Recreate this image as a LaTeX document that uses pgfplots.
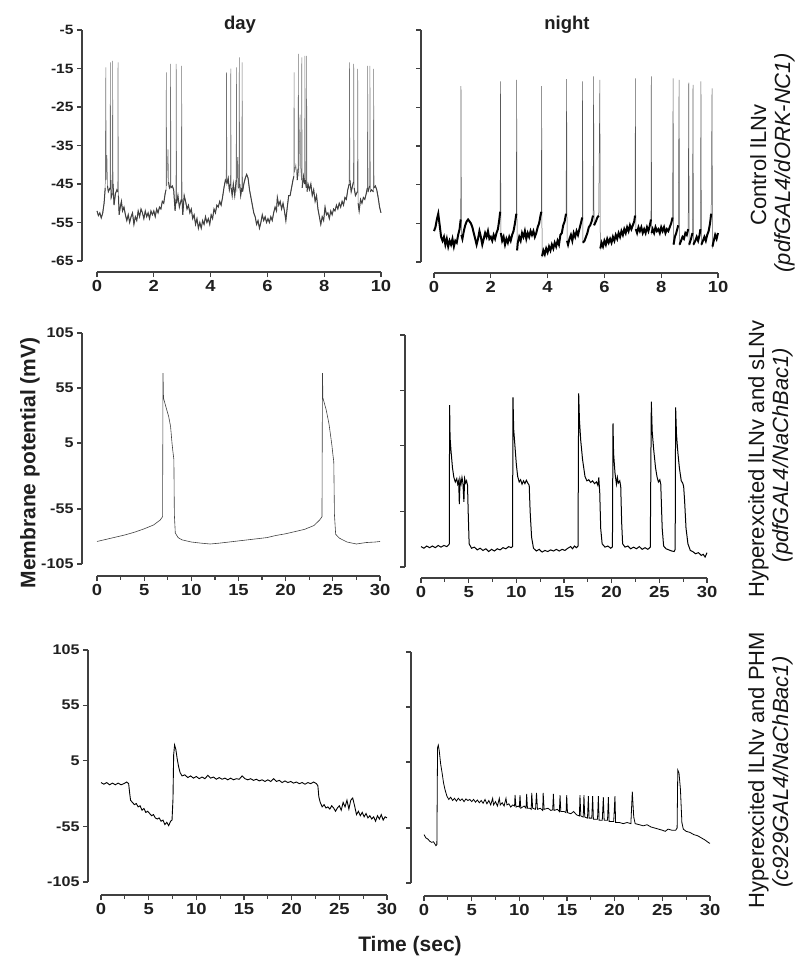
\documentclass[border=0pt]{standalone}
\usepackage{pgfplots}
\pgfplotsset{compat=1.18}
\usepackage{pgfplotstable}
\usepackage{graphicx}
\usepackage{fontspec}
\setmainfont{Liberation Sans}
\definecolor{axc}{HTML}{404040}
\newcommand{\sx}[1]{\scalebox{1.15}[1]{#1}}
\newcommand{\fs}[1]{\fontsize{#1}{#1}\selectfont}

\pgfplotstableread{
x y
0.00 -52.0
0.05 -53.2
0.10 -52.5
0.15 -53.8
0.20 -52.6
0.25 -50.0
0.29 -46.0
0.31 -14.7
0.325 -44.0
0.35 -37.5
0.37 -45.5
0.40 -47.0
0.46 -46.0
0.47 -13.4
0.485 -44.0
0.50 -48.5
0.54 -47.5
0.55 -13.0
0.565 -45.0
0.60 -50.5
0.65 -47.5
0.70 -46.5
0.73 -47.0
0.74 -13.4
0.755 -48.0
0.78 -53.0
0.82 -51.0
0.86 -49.5
0.90 -52.0
0.95 -51.0
1.00 -53.0
1.05 -54.5
1.10 -53.0
1.15 -55.0
1.20 -53.5
1.25 -52.5
1.30 -55.5
1.35 -53.5
1.40 -54.5
1.45 -52.0
1.50 -53.5
1.55 -51.5
1.60 -52.5
1.65 -54.0
1.70 -52.0
1.75 -53.5
1.80 -52.5
1.85 -54.0
1.90 -52.0
1.95 -53.0
2.00 -52.0
2.05 -53.5
2.10 -51.5
2.15 -52.5
2.20 -51.0
2.25 -51.5
2.30 -49.5
2.35 -50.0
2.40 -47.5
2.43 -46.5
2.44 -16.0
2.455 -45.5
2.50 -36.0
2.52 -44.5
2.55 -46.0
2.58 -45.5
2.59 -13.8
2.605 -46.0
2.65 -45.5
2.70 -46.5
2.75 -52.0
2.78 -49.0
2.79 -13.8
2.805 -50.0
2.85 -48.0
2.90 -51.0
2.97 -49.0
2.98 -14.3
2.995 -49.0
3.02 -53.0
3.07 -48.0
3.12 -49.5
3.17 -51.5
3.22 -50.5
3.27 -52.5
3.32 -51.5
3.37 -54.0
3.42 -53.0
3.47 -55.5
3.52 -54.0
3.57 -56.5
3.62 -55.0
3.67 -56.5
3.72 -54.5
3.77 -55.5
3.82 -53.5
3.87 -55.0
3.92 -54.0
3.97 -55.5
4.02 -53.0
4.07 -54.0
4.12 -51.5
4.17 -52.5
4.22 -50.5
4.27 -51.0
4.32 -49.5
4.37 -50.5
4.42 -48.5
4.47 -46.0
4.52 -44.0
4.55 -44.5
4.56 -16.0
4.575 -45.0
4.62 -43.5
4.66 -46.5
4.70 -45.0
4.71 -15.0
4.725 -46.0
4.76 -48.0
4.80 -45.0
4.85 -48.0
4.90 -44.0
4.91 -14.7
4.925 -47.0
4.96 -38.0
4.98 -46.0
5.00 -46.0
5.01 -12.1
5.025 -45.0
5.06 -48.0
5.10 -46.0
5.11 -13.4
5.125 -47.0
5.17 -45.0
5.22 -43.5
5.27 -42.5
5.32 -43.5
5.37 -46.5
5.42 -48.5
5.47 -50.5
5.52 -52.5
5.57 -53.5
5.62 -55.5
5.67 -54.5
5.72 -56.5
5.77 -55.0
5.82 -53.0
5.87 -54.5
5.92 -53.5
5.97 -55.0
6.02 -54.0
6.07 -55.0
6.12 -53.5
6.17 -54.5
6.22 -52.5
6.27 -51.0
6.32 -52.0
6.35 -48.5
6.40 -50.5
6.45 -49.5
6.50 -51.5
6.55 -50.0
6.60 -52.0
6.65 -54.5
6.70 -51.0
6.75 -48.0
6.80 -48.0
6.85 -46.0
6.90 -44.0
6.93 -43.0
6.94 -16.0
6.955 -42.0
7.00 -40.0
7.05 -44.0
7.08 -41.0
7.09 -11.2
7.105 -43.0
7.15 -27.0
7.17 -40.5
7.20 -44.0
7.21 -12.1
7.225 -46.0
7.27 -43.0
7.31 -45.0
7.32 -11.7
7.335 -44.0
7.37 -46.0
7.38 -11.7
7.395 -47.0
7.43 -45.0
7.48 -46.5
7.53 -45.0
7.58 -48.0
7.63 -46.5
7.68 -49.5
7.73 -48.0
7.78 -51.5
7.83 -53.5
7.88 -55.5
7.93 -53.5
7.98 -54.5
8.03 -51.0
8.08 -53.0
8.13 -52.5
8.18 -54.0
8.23 -52.0
8.28 -53.0
8.33 -51.5
8.38 -52.0
8.43 -50.5
8.48 -51.5
8.53 -50.0
8.58 -51.0
8.63 -49.5
8.68 -50.5
8.73 -48.5
8.78 -49.0
8.83 -46.5
8.88 -45.0
8.89 -13.4
8.905 -44.0
8.95 -47.0
9.03 -44.5
9.04 -13.8
9.055 -46.0
9.10 -48.0
9.17 -47.0
9.18 -15.1
9.195 -50.0
9.23 -52.0
9.28 -49.0
9.33 -50.0
9.38 -48.5
9.43 -49.0
9.48 -47.5
9.52 -46.0
9.53 -14.3
9.545 -47.0
9.60 -45.5
9.61 -14.3
9.625 -47.0
9.67 -46.5
9.73 -47.0
9.74 -15.1
9.755 -46.0
9.80 -45.5
9.85 -46.5
9.90 -48.5
9.95 -51.0
10.0 -52.5
}\dA

\pgfplotstableread{
x y
0.00 -57.0
0.05 -56.0
0.10 -54.0
0.15 -52.5
0.20 -55.5
0.25 -58.5
0.30 -59.5
0.35 -58.5
0.40 -60.5
0.45 -59.0
0.50 -61.0
0.55 -59.5
0.60 -60.5
0.65 -59.0
0.70 -61.0
0.75 -59.5
0.80 -60.0
0.85 -58.0
0.90 -56.5
0.94 -54.0
0.95 -19.5
0.965 -58.0
1.00 -59.0
1.05 -57.0
1.10 -55.5
1.15 -54.5
1.20 -54.0
1.25 -54.5
1.30 -55.0
1.35 -56.0
1.40 -57.5
1.45 -59.0
1.50 -60.5
1.55 -59.0
1.60 -57.0
1.65 -58.5
1.70 -60.5
1.75 -59.0
1.80 -57.5
1.85 -58.5
1.90 -57.0
1.95 -59.0
2.00 -58.5
2.05 -59.5
2.10 -58.0
2.15 -59.0
2.20 -57.5
2.25 -56.5
2.30 -54.0
2.33 -52.0
2.34 -18.3
2.355 -57.5
2.40 -59.5
2.45 -58.5
2.50 -60.5
2.55 -59.0
2.60 -60.0
2.65 -58.5
2.70 -59.5
2.75 -58.0
2.80 -57.0
2.85 -55.0
2.90 -52.5
2.91 -17.9
2.925 -62.0
2.95 -60.0
3.00 -58.5
3.05 -59.5
3.10 -57.5
3.15 -58.5
3.20 -57.0
3.25 -59.0
3.30 -57.5
3.35 -58.5
3.40 -57.0
3.45 -58.0
3.50 -57.0
3.55 -58.5
3.60 -57.5
3.65 -56.0
3.70 -55.0
3.75 -53.0
3.78 -52.0
3.79 -19.5
3.805 -63.5
3.85 -62.0
3.90 -63.0
3.95 -61.5
4.00 -62.5
4.05 -61.0
4.10 -62.0
4.15 -60.5
4.20 -61.5
4.25 -60.0
4.30 -61.0
4.35 -59.5
4.40 -60.5
4.45 -58.0
4.50 -57.5
4.55 -55.5
4.60 -54.5
4.65 -52.5
4.67 -17.7
4.685 -59.5
4.72 -60.5
4.77 -59.0
4.82 -58.0
4.87 -59.5
4.92 -57.5
4.97 -58.5
5.02 -57.0
5.07 -58.0
5.12 -56.5
5.17 -55.0
5.22 -53.5
5.23 -18.3
5.245 -60.0
5.30 -59.5
5.35 -58.5
5.40 -57.5
5.45 -56.0
5.50 -55.5
5.55 -54.5
5.60 -53.0
5.62 -17.0
5.635 -55.5
5.70 -54.5
5.75 -53.5
5.80 -53.0
5.84 -17.9
5.855 -61.5
5.90 -60.0
5.95 -61.0
6.00 -59.5
6.05 -60.5
6.10 -59.0
6.15 -60.0
6.20 -59.0
6.25 -60.0
6.30 -58.5
6.35 -59.5
6.40 -58.0
6.45 -59.0
6.50 -57.5
6.55 -58.5
6.60 -57.0
6.65 -58.0
6.70 -56.5
6.75 -57.5
6.80 -56.0
6.85 -57.0
6.90 -55.5
6.95 -56.5
7.00 -55.5
7.05 -54.5
7.08 -53.0
7.09 -17.5
7.105 -56.5
7.15 -57.5
7.20 -56.0
7.25 -57.0
7.30 -56.0
7.35 -57.5
7.40 -56.5
7.45 -57.5
7.50 -56.0
7.55 -57.0
7.60 -55.5
7.64 -54.0
7.65 -17.0
7.665 -57.5
7.70 -56.5
7.75 -57.5
7.80 -56.0
7.85 -57.0
7.90 -56.5
7.95 -57.5
8.00 -56.0
8.05 -57.0
8.10 -56.0
8.15 -57.5
8.20 -56.5
8.25 -57.0
8.30 -56.0
8.35 -55.0
8.40 -53.5
8.42 -17.5
8.435 -60.5
8.48 -58.5
8.53 -57.5
8.60 -55.5
8.63 -17.9
8.645 -60.5
8.70 -59.5
8.75 -58.5
8.80 -59.0
8.85 -57.5
8.90 -58.0
8.95 -56.5
8.97 -18.6
8.985 -60.5
9.05 -59.0
9.10 -57.5
9.12 -19.2
9.135 -60.5
9.20 -59.5
9.25 -58.5
9.30 -59.5
9.35 -58.0
9.38 -56.5
9.40 -18.3
9.415 -60.5
9.47 -59.5
9.52 -58.5
9.57 -59.5
9.62 -58.0
9.67 -57.0
9.72 -55.0
9.76 -52.5
9.79 -20.1
9.805 -61.0
9.85 -59.5
9.90 -58.0
9.95 -59.0
10.0 -57.5
}\dB

\pgfplotstableread{
x y
0 -84.5
1 -82.5
2 -80.5
3 -78.5
4 -76
5 -73
6 -69.5
6.7 -65
6.95 -62
7.0 68.6
7.05 45.9
7.3 38
7.6 29
7.8 20
7.95 5
8.05 -3
8.15 -10
8.2 -60
8.3 -76.8
8.6 -81
9 -83
10 -85
11 -86
12 -86.8
13 -86
14 -85
15 -84
16 -83
17 -82
18 -81
19 -79
20 -77.5
21 -75.5
22 -73.5
23 -70
23.6 -65
23.85 -62
23.9 68.6
23.95 45.9
24.3 35
24.6 22
24.9 3
25.0 -5
25.1 -12
25.17 -60
25.3 -78
25.7 -81.5
26.5 -85
27.5 -86.8
28.5 -85.5
29.5 -85
30 -84.5
}\dC

\pgfplotstableread{
x y
0.0 -86.5
0.3 -88
0.6 -86
0.9 -87.5
1.2 -86
1.5 -87.5
1.8 -85.5
2.1 -87
2.4 -85.5
2.7 -86.5
2.9 -85
2.97 -84
3.0 41.6
3.05 12
3.15 0
3.3 -15
3.45 -24
3.6 -28
3.75 -25
3.85 -30
3.95 -27
4.02 -48
4.1 -26
4.2 -30
4.3 -24
4.4 -29
4.5 -46
4.58 -25
4.68 -29
4.78 -27
4.88 -31
4.95 -55
5.05 -84
5.3 -88
5.6 -87
5.9 -89.5
6.2 -88
6.5 -90
6.8 -88.5
7.1 -91
7.4 -89
7.7 -90.5
8.0 -88.5
8.3 -89.5
8.6 -87.5
8.9 -88.5
9.2 -86.5
9.45 -87.5
9.6 -86.5
9.65 48.5
9.72 20
9.85 5
10.0 -12
10.14 -23
10.3 -28
10.45 -26
10.6 -30
10.75 -27
10.9 -29.5
11.05 -26.5
11.2 -29
11.35 -31
11.45 -55
11.6 -78
11.8 -88
12.1 -90.5
12.4 -89
12.7 -91.5
13.0 -90
13.3 -91
13.6 -89.5
13.9 -90.5
14.2 -89
14.5 -90.5
14.8 -89
15.1 -90
15.4 -88
15.7 -86.5
15.9 -88.5
16.1 -86
16.3 -87.5
16.47 -86
16.54 52.1
16.62 28
16.75 10
16.95 -8
17.2 -23
17.4 -27
17.6 -26
17.8 -28.5
18.0 -27
18.2 -29.5
18.4 -28
18.55 -31
18.65 -24
18.75 -38
18.85 -70
19.0 -84
19.3 -87
19.6 -86
19.9 -88
20.08 -86.8
20.14 25
20.2 -2
20.35 -20
20.5 -30
20.6 -24
20.7 -29
20.85 -27
20.95 -32
21.05 -65
21.15 -84
21.4 -87
21.7 -86
22.0 -88.5
22.3 -87
22.6 -88.5
22.9 -86.5
23.2 -89
23.5 -87.5
23.8 -89
24.05 -87
24.16 44.6
24.25 18
24.4 2
24.6 -15
24.75 -23
24.9 -28
25.05 -26
25.15 -30
25.3 -70
25.45 -86
25.7 -88.5
26.0 -89.5
26.3 -90.5
26.55 -91
26.66 -89
26.71 39.4
26.8 15
26.95 -2
27.1 -15
27.3 -27
27.45 -29
27.55 -32
27.65 -45
27.8 -70
28.0 -84
28.25 -90
28.5 -91
28.8 -93
29.1 -92
29.4 -94.5
29.6 -93.5
29.8 -96
30 -92
}\dD

\pgfplotstableread{
x y
0.0 -15
0.3 -16.5
0.6 -15
0.9 -17
1.2 -15.5
1.5 -17
1.8 -15.5
2.1 -17
2.4 -16
2.7 -14.5
2.9 -16
3.0 -24
3.1 -31
3.3 -33
3.5 -35
3.7 -34
3.9 -37
4.1 -36
4.3 -40
4.5 -38.5
4.7 -42
4.9 -41
5.1 -43
5.3 -45
5.5 -44
5.7 -47
5.9 -48
6.1 -47
6.3 -50
6.5 -49
6.7 -53
6.9 -51
7.1 -54
7.3 -50
7.45 -49
7.55 -30
7.62 10
7.72 19
7.85 15
8.0 6
8.15 -1
8.3 -6
8.5 -9
8.8 -8
9.1 -10.5
9.4 -9
9.7 -11
10.0 -9.5
10.3 -11.5
10.6 -10
10.9 -11.5
11.2 -8.5
11.5 -11
11.8 -10
12.1 -12
12.4 -10.5
12.7 -12
13.0 -11
13.3 -12.5
13.6 -11
13.9 -12.5
14.2 -11.5
14.5 -12
14.8 -9
15.1 -11.5
15.4 -12.5
15.7 -11.5
16.0 -13
16.3 -12
16.6 -13.5
16.9 -12.5
17.2 -14
17.5 -12.5
17.8 -14
18.1 -11.5
18.4 -14
18.7 -13
19.0 -15
19.3 -13.5
19.6 -15
19.9 -14
20.2 -15.5
20.5 -14.5
20.8 -16
21.1 -15
21.4 -16.5
21.7 -15
22.0 -16
22.3 -14.5
22.6 -16
22.75 -18
22.85 -28
23.0 -33
23.2 -37
23.4 -35
23.6 -38
23.8 -37
24.0 -39
24.2 -36
24.4 -38
24.6 -41
24.8 -38
25.0 -36
25.2 -40
25.4 -33
25.6 -37
25.8 -31
26.0 -39
26.2 -31
26.4 -29
26.6 -36
26.8 -44
27.0 -41
27.2 -45
27.4 -42
27.6 -46
27.8 -43
28.0 -47
28.2 -45
28.4 -48
28.6 -46
28.8 -50
29.0 -45
29.2 -48
29.4 -44
29.6 -49
29.8 -46
30.0 -47
}\dE

\pgfplotstableread{
x y
0.0 -61
0.2 -64
0.4 -65
0.6 -67
0.8 -68
1.0 -67.5
1.25 -71
1.35 -70
1.42 18
1.5 20.4
1.6 15
1.75 3
1.9 -5
2.05 -14
2.2 -20
2.4 -26
2.6 -29
2.8 -27
3.0 -30
3.2 -28
3.4 -30.5
3.6 -28
3.8 -30
4.0 -28.5
4.2 -31
4.4 -28.5
4.6 -30
4.8 -29
5.0 -31
5.2 -29
5.4 -31.5
5.6 -29.5
5.8 -32
6.0 -30
6.2 -32.5
6.4 -29
6.6 -33
6.8 -30
7.0 -34
7.2 -28
7.3 -34
7.5 -31
7.7 -35
7.9 -28
8.0 -34
8.2 -32
8.4 -35
8.6 -28
8.7 -34
8.9 -33
9.1 -36
9.3 -34
9.5 -35
9.55 -25
9.65 -36
9.9 -35
10.0 -36
10.07 -25
10.15 -37
10.5 -35
10.7 -37
10.77 -24
10.85 -37
11.1 -37
11.25 -38
11.3 -23
11.4 -37
11.7 -38
11.8 -23
11.9 -38
12.2 -37
12.45 -39
12.5 -23
12.6 -38
13.0 -37
13.3 -39
13.5 -38.5
13.57 -24
13.65 -39
14.0 -38
14.2 -40
14.27 -25
14.35 -40
14.7 -40
14.9 -41
14.97 -25
15.05 -41
15.4 -42
15.7 -40
16.0 -43
16.3 -44
16.36 -25
16.45 -44
16.7 -45
16.78 -25
16.86 -45
17.15 -46
17.24 -26
17.32 -46
17.6 -46
17.69 -26
17.77 -47
18.2 -47
18.29 -26
18.37 -48
18.7 -48
18.81 -27
18.9 -48
19.25 -48
19.34 -27
19.42 -49
19.9 -49
20.03 -26
20.1 -50
20.5 -50
20.9 -51
21.3 -50
21.7 -51
21.85 -22
22.0 -45
22.15 -51
22.6 -52
23.0 -53
23.4 -52
23.8 -54
24.2 -55
24.6 -56
25.0 -57
25.3 -58
25.6 -56
26.0 -57
26.4 -57
26.55 -55
26.62 -2.3
26.75 -5
26.9 -20
27.05 -50
27.2 -56
27.5 -58
27.9 -59
28.3 -61
28.7 -62
29.1 -64
29.5 -66
29.8 -68
30.0 -69
}\dF

\tikzset{ax/.style={draw=axc, line width=1.5pt}}
\pgfplotsset{
  panel/.style={scale only axis, anchor=south west,
    axis x line*=bottom, axis y line*=left, axis line style={draw=none},
    tick align=outside, tick style={draw=axc, line width=1.2pt},
    major tick length=5pt, minor tick length=3.5pt, clip=false,
    /pgf/number format/assume math mode=true,
    xticklabel={\sx{\pgfmathprintnumber{\tick}}},
    xticklabel style={font=\bfseries\fs{16}, text=black!88},
    yticklabel style={font=\bfseries\fs{14}, text=black!88}},
}

\begin{document}
\begin{tikzpicture}
\useasboundingbox (0,0) rectangle (800pt,-962pt);

% Row 1 left (day)
\begin{axis}[panel, at={(82pt,-272pt)}, width=299pt, height=242pt,
  xmin=-0.528, xmax=10, ymin=-67.86, ymax=-5,
  xtick={0,2,...,10}, ytick={-65,-55,-45,-35,-25,-15,-5},
  yticklabels={\sx{-65},\sx{-55},\sx{-45},\sx{-35},\sx{-25},\sx{-15},\sx{-5}},
  yticklabel style={font=\bfseries\fs{13.5}}]
\draw[ax] (axis cs:-0.528,-5) -- (axis cs:-0.528,-65);
\draw[ax] (axis cs:0,-67.86) -- (axis cs:10,-67.86);
\addplot[black!55, line width=0.5pt] table {\dA};
\addplot[black!75, line width=1pt, restrict y to domain=-60:-41, unbounded coords=jump] table {\dA};
\end{axis}

% Row 1 right (night)
\begin{axis}[panel, at={(421pt,-273pt)}, width=297pt, height=243pt,
  xmin=-0.458, xmax=10, ymin=-67.84, ymax=-5,
  xtick={0,2,...,10}, ytick={-65,-55,-45,-35,-25,-15,-5}, yticklabels={}]
\draw[ax] (axis cs:-0.458,-5) -- (axis cs:-0.458,-65);
\draw[ax] (axis cs:0,-67.84) -- (axis cs:10,-67.84);
\addplot[black!65, line width=0.5pt] table {\dB};
\addplot[black, line width=2pt, restrict y to domain=-70:-50.5, unbounded coords=jump] table {\dB};
\end{axis}

% Row 2 left
\begin{axis}[panel, at={(82pt,-576pt)}, width=298pt, height=243pt,
  xmin=-1.59, xmax=30, ymin=-115.9, ymax=105,
  xtick={0,5,...,30}, minor x tick num=1,
  ytick={-105,-55,5,55,105},
  yticklabels={\sx{-105},\sx{-55},\sx{5},\sx{55},\sx{105}}]
\draw[ax] (axis cs:-1.59,105) -- (axis cs:-1.59,-105);
\draw[ax] (axis cs:0,-115.9) -- (axis cs:30,-115.9);
\addplot[black!75, line width=0.6pt] table {\dC};
\end{axis}

% Row 2 right
\begin{axis}[panel, at={(405pt,-578pt)}, width=302pt, height=243pt,
  xmin=-1.678, xmax=30, ymin=-114.95, ymax=105,
  xtick={0,5,...,30}, minor x tick num=1,
  ytick={-105,-55,5,55,105}, yticklabels={}]
\draw[ax] (axis cs:-1.678,105) -- (axis cs:-1.678,-105);
\draw[ax] (axis cs:0,-114.95) -- (axis cs:30,-114.95);
\addplot[black, line width=1pt] table {\dD};
\end{axis}

% Row 3 left
\begin{axis}[panel, at={(88pt,-895pt)}, width=299pt, height=245pt,
  xmin=-1.364, xmax=30, ymin=-116.8, ymax=105,
  xtick={0,5,...,30}, minor x tick num=1,
  ytick={-105,-55,5,55,105},
  yticklabels={\sx{-105},\sx{-55},\sx{5},\sx{55},\sx{105}}]
\draw[ax] (axis cs:-1.364,105) -- (axis cs:-1.364,-105);
\draw[ax] (axis cs:0,-116.8) -- (axis cs:30,-116.8);
\addplot[black, line width=0.9pt] table {\dE};
\end{axis}

% Row 3 right
\begin{axis}[panel, at={(411pt,-896pt)}, width=299pt, height=244pt,
  xmin=-1.364, xmax=30, ymin=-116.8, ymax=105,
  xtick={0,5,...,30}, minor x tick num=1,
  ytick={-105,-55,5,55,105}, yticklabels={}]
\draw[ax] (axis cs:-1.364,105) -- (axis cs:-1.364,-105);
\draw[ax] (axis cs:0,-116.8) -- (axis cs:30,-116.8);
\addplot[black, line width=0.8pt] table {\dF};
\end{axis}

% titles and labels
\node[anchor=base, font=\bfseries\fs{18.5}, text=black!88] at (240pt,-29pt) {day};
\node[anchor=base, font=\bfseries\fs{18.5}, text=black!88] at (567pt,-29pt) {night};
\node[rotate=90, font=\bfseries\fs{21}, text=black!88] at (30pt,-463pt) {Membrane potential (mV)};
\node[anchor=base, font=\bfseries\fs{21}, text=black!88] at (410pt,-951pt) {Time (sec)};

\node[rotate=90, anchor=base, font=\fs{22}, text=black!92] at (766pt,-165pt) {Control lLNv};
\node[rotate=90, anchor=base, font=\itshape\fs{22}, text=black!92] at (790pt,-163pt) {(pdfGAL4/dORK-NC1)};
\node[rotate=90, anchor=base, font=\fs{22}, text=black!92] at (764pt,-459pt) {Hyperexcited lLNv and sLNv};
\node[rotate=90, anchor=base, font=\itshape\fs{22}, text=black!92] at (788pt,-455pt) {(pdfGAL4/NaChBac1)};
\node[rotate=90, anchor=base, font=\fs{22}, text=black!92] at (764pt,-770pt) {Hyperexcited lLNv and PHM};
\node[rotate=90, anchor=base, font=\itshape\fs{22}, text=black!92] at (788pt,-772pt) {(c929GAL4/NaChBac1)};
\end{tikzpicture}
\end{document}
